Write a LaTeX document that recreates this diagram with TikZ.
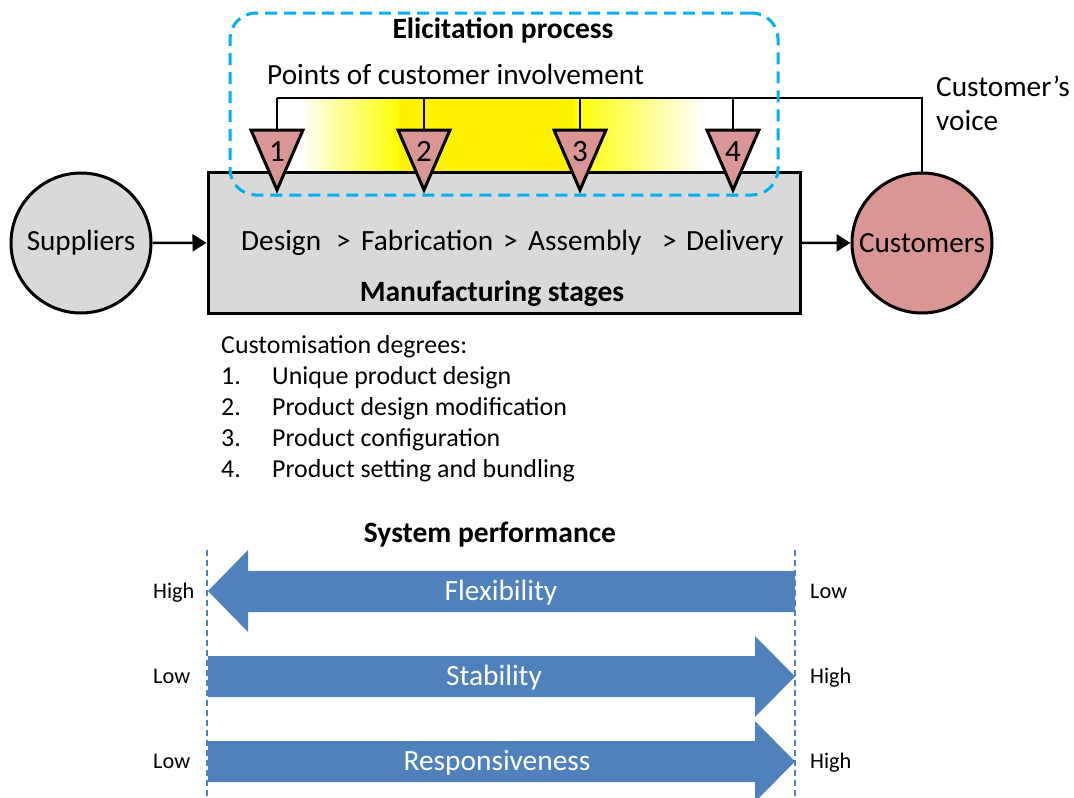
\documentclass[tikz,border=0pt]{standalone}
\usepackage{fontspec}
\setmainfont{Carlito}
\usetikzlibrary{arrows.meta}
\definecolor{boxgray}{RGB}{217,217,217}
\definecolor{rosefill}{RGB}{217,150,148}
\definecolor{elicit}{RGB}{0,176,240}
\definecolor{perfblue}{RGB}{79,129,189}
\tikzset{
  x=1pt, y=-1pt,
  txt/.style={inner sep=0pt, font=\fontsize{29.3}{33}\selectfont},
  small/.style={inner sep=0pt, font=\fontsize{25.9}{30}\selectfont},
  tiny/.style={inner sep=0pt, font=\fontsize{22.3}{26}\selectfont},
  bold/.style={inner sep=0pt, font=\fontsize{29.5}{33}\selectfont\bfseries},
  party/.style={circle, draw=black, line width=3pt, minimum size=140pt, inner sep=0pt, font=\fontsize{29.2}{33}\selectfont},
  flow/.style={line width=2.5pt, -{Triangle[length=14pt,width=17pt]}},
  bus/.style={line width=2.5pt},
  pointer/.style={draw=black, line width=3pt, fill=rosefill, line join=miter},
  perfarrow/.style={fill=perfblue},
  guide/.style={draw=perfblue, line width=1.5pt, dash pattern=on 6pt off 4pt},
  whitetxt/.style={inner sep=0pt, text=white, font=\fontsize{29.4}{33}\selectfont},
}
\begin{document}
\begin{tikzpicture}
\useasboundingbox (0,0) rectangle (1074,798);

% highlighted band behind the involvement points
\shade[left color=white, right color=yellow] (300,98) rectangle (400,172);
\fill[yellow] (399,98) rectangle (575,172);
\shade[left color=yellow, right color=white] (574,98) rectangle (705,172);

% manufacturing stages box
\node[draw=black, line width=3pt, fill=boxgray, minimum width=592pt, minimum height=141pt, inner sep=0pt] (mfg) at (504,242.5) {};
\node[txt, anchor=mid west] (design) at (241,248) {Design};
\node[txt, anchor=mid west] (g1) at (336,248) {>};
\node[txt, anchor=mid west] (fab) at (361,248) {Fabrication};
\node[txt, anchor=mid west] (g2) at (503,248) {>};
\node[txt, anchor=mid west] (asm) at (528,248) {Assembly};
\node[txt, anchor=mid west] (g3) at (662,248) {>};
\node[txt, anchor=mid west] (del) at (686,248) {Delivery};
\node[bold, anchor=mid] (mfgtitle) at (492,299) {Manufacturing stages};

% suppliers and customers
\node[party, fill=boxgray] (sup) at (81,243) {\raisebox{-2pt}{Suppliers}};
\node[party, fill=rosefill] (cus) at (922,243) {\raisebox{-2pt}{Customers}};
\draw[flow] (sup) -- (mfg);
\draw[flow] (mfg) -- (cus);

% customer's voice feedback bus
\coordinate (busL) at (277,98);
\coordinate (busR) at (922,98);
\draw[bus] (cus.north) -- (busR) -- (busL);
\node[txt, anchor=mid west] (voice1) at (936,94) {Customer’s};
\node[txt, anchor=mid west] (voice2) at (936,128) {voice};

% points of customer involvement
\foreach \i/\xx in {1/277, 2/424, 3/580, 4/733}{
  \coordinate (top\i) at (\xx,130);
  \draw[pointer] (\xx-26,130) -- (\xx+26,130) -- (\xx,190) -- cycle;
  \node[inner sep=0pt, font=\fontsize{31}{34}\selectfont, anchor=mid] (pt\i) at (\xx,159) {\i};
  \draw[bus] (top\i) -- (\xx,98);
}
\node[txt, anchor=mid west] (poci) at (267,82) {Points of customer involvement};

% elicitation frame
\node[draw=elicit, line width=3pt, dash pattern=on 12pt off 7pt, rounded corners=26pt, minimum width=548pt, minimum height=182pt, inner sep=0pt] (elic) at (504,104) {};
\node[bold, anchor=mid] (elictitle) at (503,36) {Elicitation process};

% customisation degrees
\node[small, anchor=mid west] (cdeg) at (221,351) {Customisation degrees:};
\foreach \i/\yy/\t in {1/382/Unique product design, 2/413/Product design modification, 3/444/Product configuration, 4/475/Product setting and bundling}{
  \node[small, anchor=mid west] (n\i) at (221,\yy) {\i.};
  \node[small, anchor=mid west] (d\i) at (272,\yy) {\t};
}

% system performance
\node[bold, anchor=mid] (systitle) at (490,540) {System performance};
\draw[guide] (207,550) -- (207,798);
\draw[guide] (795,550) -- (795,798);

\fill[perfarrow] (208,591) -- (248,550) -- (248,571) -- (795,571) -- (795,612) -- (248,612) -- (248,632) -- cycle;
\fill[perfarrow] (208,656) -- (755,656) -- (755,636) -- (795,676.5) -- (755,717) -- (755,697) -- (208,697) -- cycle;
\fill[perfarrow] (208,741) -- (755,741) -- (755,721) -- (795,761.5) -- (755,802) -- (755,782) -- (208,782) -- cycle;

\node[whitetxt, anchor=mid] (flex) at (501,598) {Flexibility};
\node[whitetxt, anchor=mid] (stab) at (494,683) {Stability};
\node[whitetxt, anchor=mid] (resp) at (497,768) {Responsiveness};

\node[tiny, anchor=mid west] (fhi) at (153,596) {High};
\node[tiny, anchor=mid west] (flo) at (810,596) {Low};
\node[tiny, anchor=mid west] (slo) at (153,681) {Low};
\node[tiny, anchor=mid west] (shi) at (810,681) {High};
\node[tiny, anchor=mid west] (rlo) at (153,766) {Low};
\node[tiny, anchor=mid west] (rhi) at (810,766) {High};
\end{tikzpicture}
\end{document}
